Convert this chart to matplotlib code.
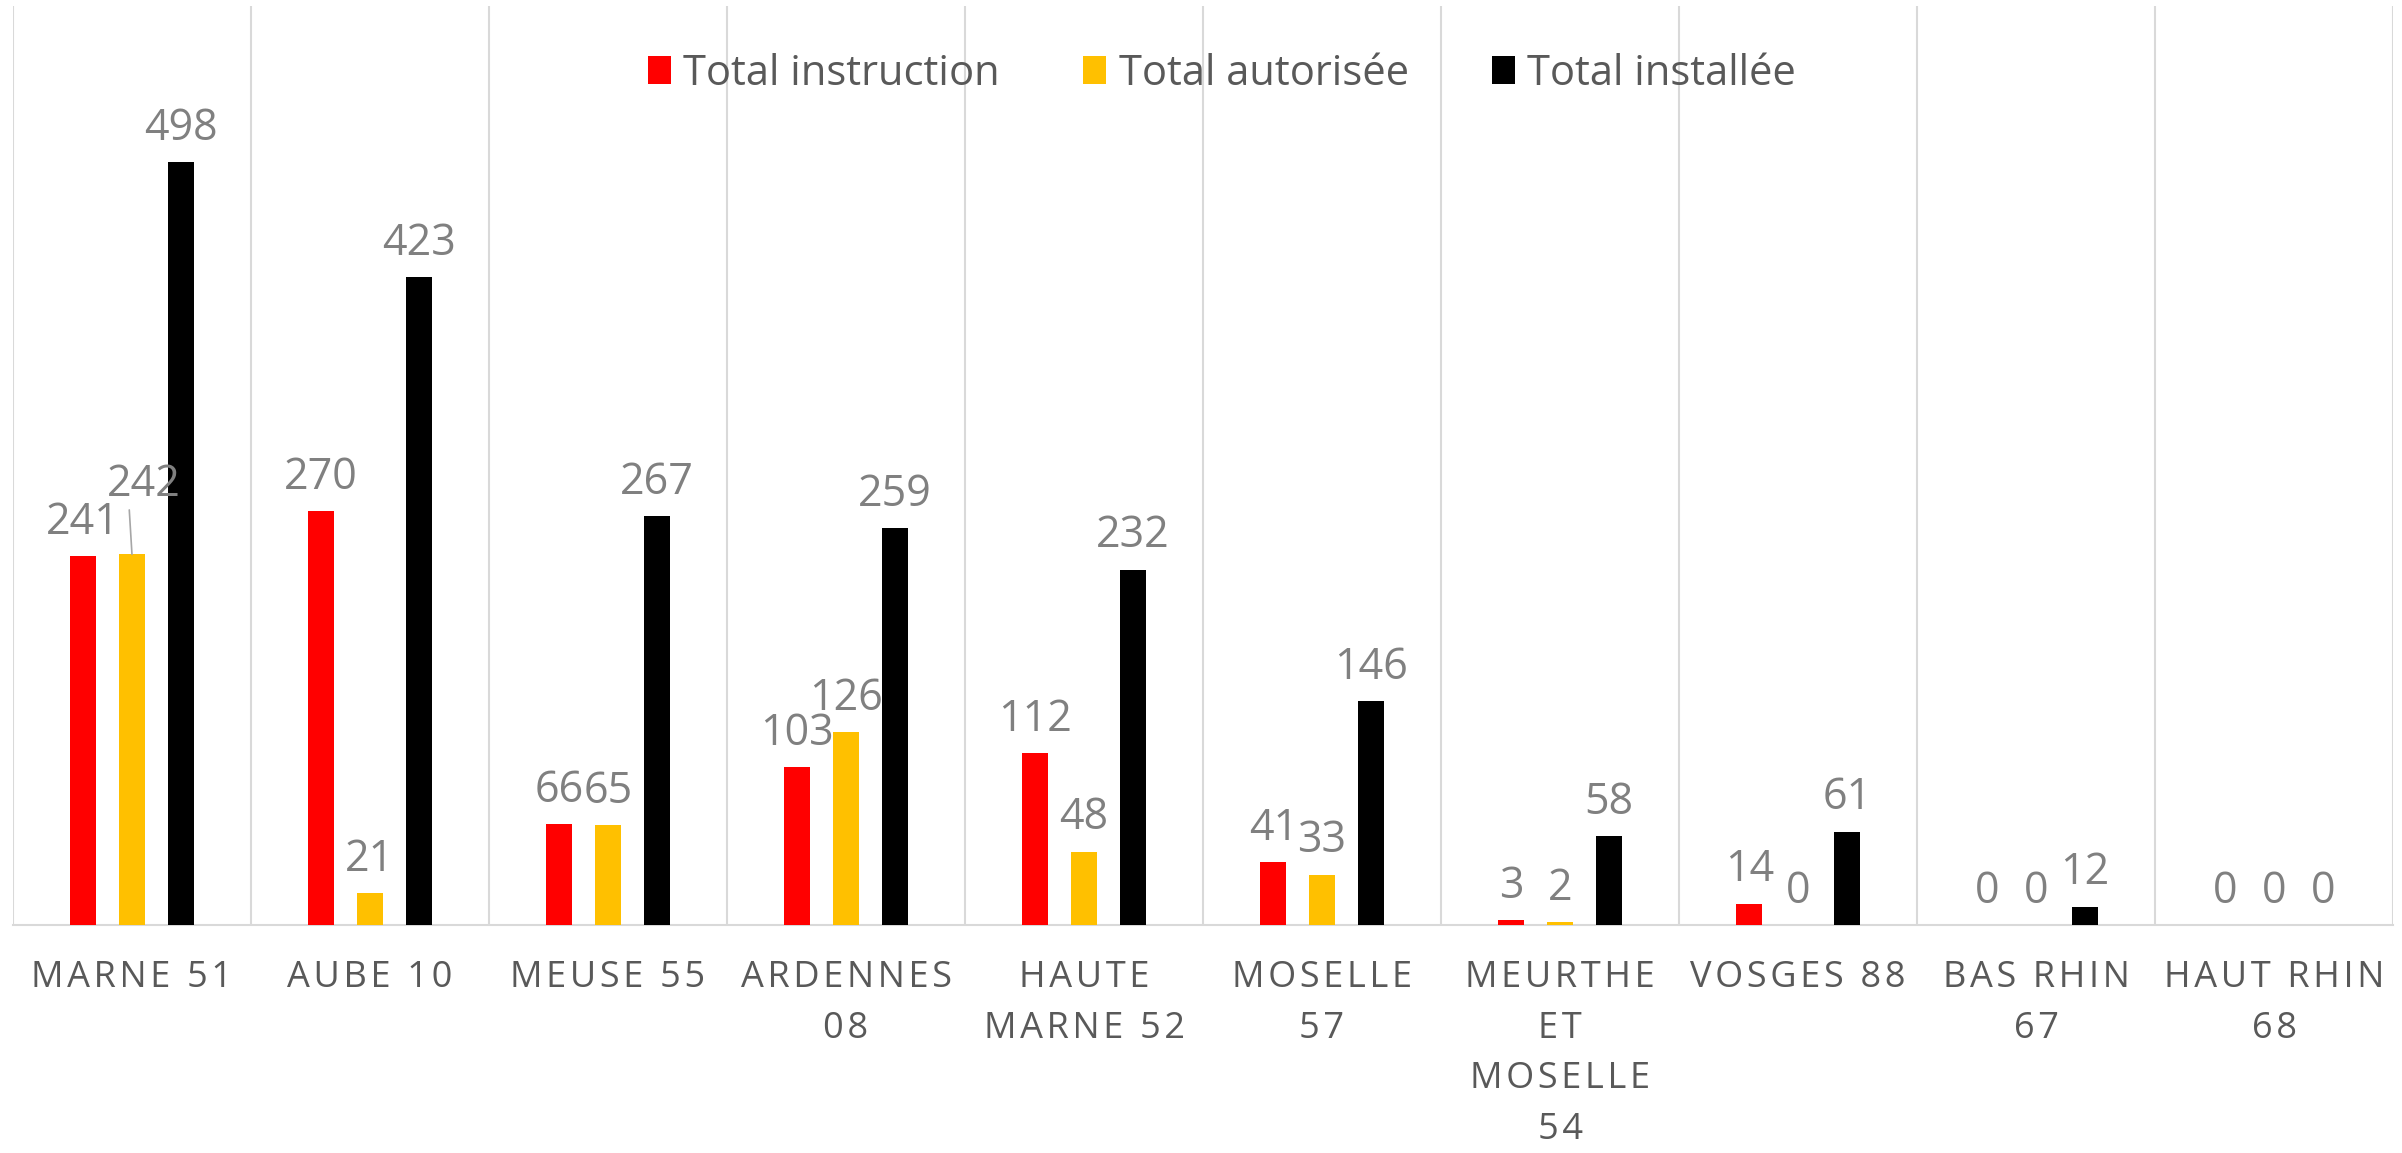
import numpy as np
import matplotlib.pyplot as plt
from matplotlib.patches import Patch

# donnees
departements = ['MARNE 51', 'AUBE 10', 'MEUSE 55', 'ARDENNES\n08', 'HAUTE\nMARNE 52',
                'MOSELLE\n57', 'MEURTHE\nET\nMOSELLE\n54', 'VOSGES 88', 'BAS RHIN\n67',
                'HAUT RHIN\n68']
instruction = [241, 270, 66, 103, 112, 41, 3, 14, 0, 0]
autorisee = [242, 21, 65, 126, 48, 33, 2, 0, 0, 0]
installee = [498, 423, 267, 259, 232, 146, 58, 61, 12, 0]

series = [('Total instruction', instruction, '#FF0000'),
          ('Total autorisée', autorisee, '#FFC000'),
          ('Total installée', installee, '#000000')]

plt.rcParams['font.family'] = ['Open Sans', 'DejaVu Sans']

def espace(s):
  #espacement des lettres (hair space entre les caracteres)
  return '\n'.join('\u200a'.join(l) for l in s.split('\n'))

fig = plt.figure(figsize=(24.02, 11.53), dpi=100)
ax = fig.add_axes([0.0054, 0.1977, 0.9909, 0.7971])

x = np.arange(len(departements))
w = 0.109
dx = 0.205
for k, (nom, vals, col) in enumerate(series):
  pos = x + (k - 1) * dx
  ax.bar(pos, vals, width=w, color=col, zorder=3)
  for i, (p, v) in enumerate(zip(pos, vals)):
    if nom == 'Total autorisée' and i == 0:
      # etiquette deplacee avec trait de rappel
      ax.annotate(str(v), xy=(p, v), xytext=(p + 0.05, v + 38), ha='center', va='baseline',
                  fontsize=31, color='#808080', zorder=5,
                  arrowprops=dict(arrowstyle='-', color='#a6a6a6', lw=1.2,
                                  shrinkA=0, shrinkB=0, relpos=(0.3, 0)))
      continue
    ax.annotate(str(v), xy=(p, v), xytext=(0, 16), textcoords='offset points',
                ha='center', va='baseline', fontsize=31, color='#808080', zorder=5)

ax.set_xlim(-0.5, len(departements) - 0.5)
ax.set_ylim(0, 600)
ax.set_xticks(x)
ax.set_xticklabels([espace(d) for d in departements], fontsize=26, color='#595959',
                   linespacing=1.55)
ax.set_xticks(np.arange(-0.5, len(departements), 1), minor=True)
ax.tick_params(axis='x', which='both', length=0, pad=25)
ax.set_yticks([])
ax.grid(axis='x', which='minor', color='#d9d9d9', lw=1.5, zorder=0)
for s in ['top', 'left', 'right']:
  ax.spines[s].set_visible(False)
ax.spines['bottom'].set_color('#d9d9d9')
ax.spines['bottom'].set_linewidth(1.5)

handles = [Patch(facecolor=c, label=n) for n, _, c in series]
leg = ax.legend(handles=handles, loc='upper center', bbox_to_anchor=(0.508, 0.99), ncol=3,
                frameon=False, fontsize=30, handlelength=0.55, handleheight=0.67,
                handletextpad=0.3, columnspacing=2.0)
for t in leg.get_texts():
  t.set_color('#595959')

fig.savefig('out.png', dpi=100)
